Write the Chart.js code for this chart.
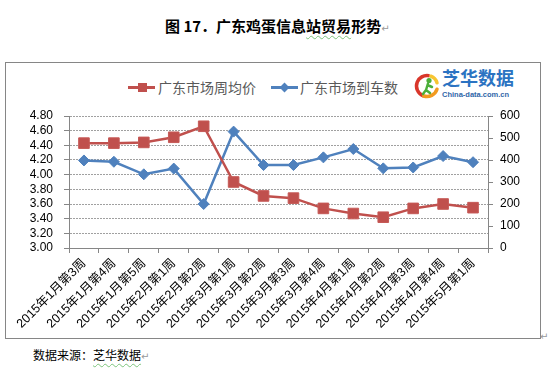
<!DOCTYPE html>
<html>
<head>
<meta charset="utf-8">
<script src="https://cdn.jsdelivr.net/npm/chart.js@4.4.0/dist/chart.umd.min.js"></script>
<style>
  body { margin: 0; width: 549px; height: 368px; background: #fff; position: relative; overflow: hidden;
         font-family: "Noto Sans CJK SC", sans-serif; }
  .abs { position: absolute; white-space: nowrap; }
  #title { left: 165px; top: 17px; font-size: 15px; line-height: 18px; font-weight: bold; color: #000; }
  .wavy { text-decoration: underline wavy #7cc47c; text-decoration-thickness: 1px; text-underline-offset: 3px; }
  .pmark { color: #999; font-size: 10px; font-weight: normal; font-family: "DejaVu Sans", sans-serif; }
  #box { left: 5px; top: 62px; width: 534px; height: 275px; border: 1px solid #868686; }
  .legtxt { font-size: 14px; line-height: 18px; color: #595959; top: 78px; }
  .legline { height: 3px; top: 86px; }
  #footer { left: 33px; top: 346px; font-size: 12px; line-height: 18px; color: #000; }
  #logo1 { left: 442px; top: 66px; font-size: 18px; line-height: 22px; font-weight: bold; color: #2b73c2; }
  #logo2 { left: 442px; top: 90px; font-size: 7.5px; line-height: 9px; font-weight: bold; color: #2f66a8;
           font-family: "Liberation Sans", sans-serif; }
  canvas { position: absolute; left: 0; top: 0; }
</style>
</head>
<body>
<div id="box" class="abs"></div>
<div id="title" class="abs">图 17．广东鸡蛋信息<span class="wavy">站贸易</span>形势<span class="pmark">↵</span></div>

<div class="abs legline" style="left:128px;width:27px;background:#c0504d;"></div>
<div class="abs" style="left:138px;top:83px;width:9px;height:9px;background:#c0504d;"></div>
<div class="abs legtxt" style="left:158px;">广东市场周均价</div>
<div class="abs legline" style="left:271px;width:27px;background:#4f81bd;"></div>
<div class="abs" style="left:281px;top:84px;width:7px;height:7px;background:#4f81bd;transform:rotate(45deg);"></div>
<div class="abs legtxt" style="left:300px;">广东市场到车数</div>

<canvas id="icon" width="30" height="28" style="left:412px;top:72px;"></canvas>
<div id="logo1" class="abs">芝华数据</div>
<div id="logo2" class="abs">China-data.com.cn</div>

<div id="footer" class="abs">数据来源：<span class="wavy">芝华数据</span><span class="pmark">↵</span></div>
<div class="abs pmark" style="left:540px;top:331px;">↵</div>

<canvas id="chart" width="549" height="368"></canvas>

<script>
// 周次
const weeks = [
  '2015年1月第3周', '2015年1月第4周', '2015年1月第5周', '2015年2月第1周', '2015年2月第2周',
  '2015年3月第1周', '2015年3月第2周', '2015年3月第3周', '2015年3月第4周', '2015年4月第1周',
  '2015年4月第2周', '2015年4月第3周', '2015年4月第4周', '2015年5月第1周'
];
// 广东市场周均价 (左轴)
const avgPrice = [4.43, 4.43, 4.44, 4.51, 4.66, 3.90, 3.71, 3.68, 3.54, 3.47, 3.42, 3.54, 3.60, 3.55];
// 广东市场到车数 (右轴)
const arrivals = [398, 392, 335, 361, 200, 529, 377, 377, 412, 450, 362, 366, 418, 390];

const priceTicks = [3.0, 3.2, 3.4, 3.6, 3.8, 4.0, 4.2, 4.4, 4.6, 4.8];
const countTicks = [0, 100, 200, 300, 400, 500, 600];

const axisGray = '#868686';
const tickFont = { family: '"Liberation Sans", "Noto Sans CJK SC", sans-serif', size: 12 };

// small logo icon
const ic = document.getElementById('icon').getContext('2d');
ic.lineCap = 'round';
ic.lineWidth = 3.5;
ic.strokeStyle = '#d9362b';
ic.beginPath(); ic.arc(15, 14, 10.5, 0.62 * Math.PI, 1.55 * Math.PI); ic.stroke();
ic.strokeStyle = '#f29a1f';
ic.beginPath(); ic.arc(15, 14, 10.5, 0.1 * Math.PI, 0.6 * Math.PI); ic.stroke();
ic.strokeStyle = '#f7c531';
ic.beginPath(); ic.arc(15, 14, 10.5, 1.62 * Math.PI, 1.9 * Math.PI); ic.stroke();
ic.fillStyle = '#4caf3a';
ic.beginPath(); ic.arc(17, 8.5, 2.6, 0, 2 * Math.PI); ic.fill();
ic.strokeStyle = '#4caf3a'; ic.lineWidth = 2.5;
ic.beginPath(); ic.moveTo(16, 11.5); ic.lineTo(14, 18); ic.lineTo(11, 22); ic.moveTo(14, 18); ic.lineTo(18, 21);
ic.moveTo(15.5, 13); ic.lineTo(20, 15); ic.stroke();

new Chart(document.getElementById('chart'), {
  type: 'line',
  data: {
    labels: weeks,
    datasets: [
      {
        label: '广东市场周均价',
        data: avgPrice,
        yAxisID: 'y',
        borderColor: '#c0504d',
        backgroundColor: '#c0504d',
        borderWidth: 2.5,
        pointStyle: 'rect',
        pointRadius: 7.5,
        pointBorderColor: '#c65a57',
        pointBorderWidth: 1,
        tension: 0
      },
      {
        label: '广东市场到车数',
        data: arrivals,
        yAxisID: 'y1',
        borderColor: '#4f81bd',
        backgroundColor: '#4f81bd',
        borderWidth: 2.5,
        pointStyle: 'rectRot',
        pointRadius: 5.5,
        pointBorderColor: '#4f81bd',
        pointBorderWidth: 1,
        tension: 0
      }
    ]
  },
  options: {
    responsive: false,
    animation: false,
    layout: { padding: { top: 116, left: 0, right: 0, bottom: 0 } },
    plugins: { legend: { display: false }, tooltip: { enabled: false }, title: { display: false } },
    scales: {
      x: {
        offset: true,
        grid: { offset: true, drawOnChartArea: false, drawTicks: true, tickLength: 5, tickColor: axisGray },
        border: { color: axisGray },
        ticks: { autoSkip: false, minRotation: 45, maxRotation: 45, padding: 3, color: '#000',
                 font: { family: tickFont.family, size: 12.5 } },
        afterFit: s => { s.height = 120; }
      },
      y: {
        position: 'left',
        min: 3, max: 4.8,
        afterBuildTicks: s => { s.ticks = priceTicks.map(v => ({ value: v })); },
        grid: { color: '#a0a0a0', tickColor: axisGray, tickLength: 5, borderDash: [2, 1], tickBorderDash: [] },
        border: { color: axisGray, dash: [2, 1] },
        ticks: { autoSkip: false, padding: 11, color: '#000', font: tickFont, callback: v => Number(v).toFixed(2) },
        afterFit: s => { s.width = 69; }
      },
      y1: {
        position: 'right',
        min: 0, max: 600,
        afterBuildTicks: s => { s.ticks = countTicks.map(v => ({ value: v })); },
        grid: { drawOnChartArea: false, tickColor: axisGray, tickLength: 5 },
        border: { color: axisGray },
        ticks: { autoSkip: false, padding: 7, color: '#000', font: tickFont },
        afterFit: s => { s.width = 61; }
      }
    }
  }
});
</script>
</body>
</html>
